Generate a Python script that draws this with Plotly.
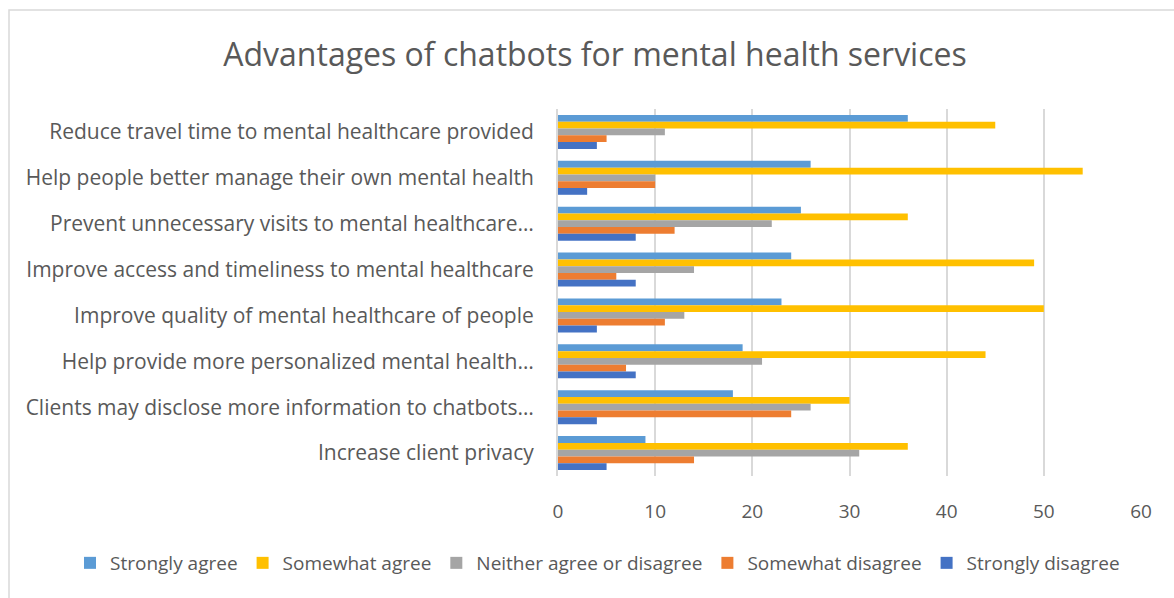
import plotly.graph_objects as go

categories = [
    "Reduce travel time to mental healthcare provided",
    "Help people better manage their own mental health",
    "Prevent unnecessary visits to mental healthcare…",
    "Improve access and timeliness to mental healthcare",
    "Improve quality of mental healthcare of people",
    "Help provide more personalized mental health…",
    "Clients may disclose more information to chatbots…",
    "Increase client privacy",
]
strongly_agree = [36, 26, 25, 24, 23, 19, 18, 9]
somewhat_agree = [45, 54, 36, 49, 50, 44, 30, 36]
neither = [11, 10, 22, 14, 13, 21, 26, 31]
somewhat_disagree = [5, 10, 12, 6, 11, 7, 24, 14]
strongly_disagree = [4, 3, 8, 8, 4, 8, 4, 5]

series_names = ["Strongly agree", "Somewhat agree", "Neither agree or disagree",
                "Somewhat disagree", "Strongly disagree"]
series_values = [strongly_agree, somewhat_agree, neither, somewhat_disagree, strongly_disagree]
colors = ["#5B9BD5", "#FFC000", "#A5A5A5", "#ED7D31", "#4472C4"]

W, H = 1174, 598
L, R, T, B = 558, 1141, 109, 476

fig = go.Figure()
for name, vals, col in zip(series_names, series_values, colors):
    fig.add_trace(go.Bar(
        y=categories, x=vals, name=name, orientation="h",
        marker=dict(color=col, line=dict(color=col, width=0)),
    ))

font_family = "Open Sans, sans-serif"
txt = "#595959"

fig.update_layout(
    width=W, height=H,
    margin=dict(l=L, r=W - R, t=T, b=H - B, pad=0, autoexpand=False),
    paper_bgcolor="white", plot_bgcolor="white",
    barmode="group", bargap=0.26, bargroupgap=0,
    font=dict(family=font_family, color=txt, size=20),
    title=dict(text="Advantages of chatbots for mental health services",
               x=595 / W, xanchor="center", xref="container",
               y=1 - 55 / H, yanchor="middle", yref="container",
               font=dict(size=32, color=txt, family=font_family)),
    xaxis=dict(range=[0, 60], dtick=10, showgrid=True, gridcolor="#D9D9D9", gridwidth=2,
               zeroline=False, showline=False, ticks="", ticklabelstandoff=22,
               tickfont=dict(size=19, color=txt)),
    yaxis=dict(autorange="reversed", showgrid=False, zeroline=False,
               showline=True, linecolor="#D9D9D9", linewidth=2,
               ticks="", ticklabelstandoff=18, tickfont=dict(size=21, color=txt)),
    legend=dict(orientation="h", xref="paper", x=(70 - L) / (R - L), xanchor="left",
                yref="paper", y=(B - 563) / (B - T), yanchor="middle",
                font=dict(size=19, color=txt), traceorder="normal",
                tracegroupgap=0, itemclick=False),
    shapes=[dict(type="rect", xref="paper", yref="paper",
                 x0=(9 - L) / (R - L), x1=(1190 - L) / (R - L),
                 y0=(B - 610) / (B - T), y1=(B - 10) / (B - T),
                 line=dict(color="#D9D9D9", width=1.5), fillcolor="rgba(0,0,0,0)", layer="below")],
    showlegend=True,
)

fig.write_html("out.html")
